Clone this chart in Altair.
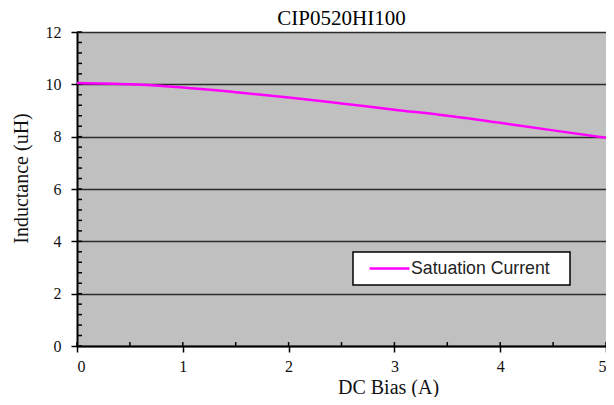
import altair as alt
import pandas as pd

# ---- data ----
bias = [0, 0.5, 1, 1.5, 2, 2.5, 3, 3.5, 4, 4.5, 5]
inductance = [10.05, 10.0, 9.88, 9.7, 9.5, 9.27, 9.03, 8.8, 8.53, 8.24, 7.96]
series_name = "Satuation Current"

x_major = [0, 1, 2, 3, 4, 5]
x_minor = [0.5, 1.5, 2.5, 3.5, 4.5]
y_major = [0, 2, 4, 6, 8, 10, 12]
y_minor = [0.4, 0.8, 1.2, 1.6, 2.4, 2.8, 3.2, 3.6, 4.4, 4.8, 5.2, 5.6,
           6.4, 6.8, 7.2, 7.6, 8.4, 8.8, 9.2, 9.6, 10.4, 10.8, 11.2, 11.6]

df = pd.DataFrame({"bias": bias, "L": inductance, "series": [series_name] * len(bias)})
ytick_df = pd.DataFrame({"v": y_major + y_minor})
xtick_df = pd.DataFrame({"v": x_major + x_minor})

SERIF = "Liberation Serif"
xscale = alt.Scale(domain=[0, 5], nice=False, zero=False)
yscale = alt.Scale(domain=[0, 12], nice=False)

line = alt.Chart(df).mark_line(strokeWidth=2.5, interpolate="monotone").encode(
    x=alt.X("bias:Q", scale=xscale, title="DC Bias (A)",
            axis=alt.Axis(values=x_major, format="d", grid=False,
                          labelPadding=6, titlePadding=3, titleFontSize=20,
                          titleX=311)),
    y=alt.Y("L:Q", scale=yscale, title="Inductance (uH)",
            axis=alt.Axis(values=y_major, format="d", grid=True,
                          labelPadding=10, titlePadding=14, titleFontSize=20,
                          titleY=146)),
    color=alt.Color("series:N", scale=alt.Scale(range=["#ff00ff"]),
                    legend=alt.Legend(title=None, orient="none", legendX=276, legendY=220,
                                      fillColor="white", strokeColor="black",
                                      padding=7, symbolType="M-2.5,0H2.5", symbolSize=256,
                                      symbolStrokeWidth=2.5, symbolOffset=20,
                                      labelFont="Liberation Sans", labelFontSize=17.7,
                                      labelColor="#222222", labelOffset=12,
                                      labelExpr="datum.label + '\u2800'")),
)

yticks_in = alt.Chart(ytick_df).mark_rule(color="black", strokeWidth=1.5).encode(
    y=alt.Y("v:Q", scale=yscale),
    x=alt.datum(0),
    x2=alt.datum(0.047),
)

xticks_in = alt.Chart(xtick_df).mark_rule(color="black", strokeWidth=1.5).encode(
    x=alt.X("v:Q", scale=xscale),
    y=alt.datum(0),
    y2=alt.datum(0.15),
)

chart = alt.layer(yticks_in, xticks_in, line).properties(
    width=529,
    height=314,
    autosize=alt.AutoSizeParams(type="none"),
    padding={"left": 69, "top": 24, "right": 0, "bottom": 51},
    title=alt.TitleParams("CIP0520HI100", font=SERIF, fontSize=21, fontWeight="normal",
                          color="black", offset=-5, anchor="middle", frame="group"),
    background="white",
).configure_view(
    fill="#c0c0c0", stroke="#8a8a8a", strokeWidth=1
).configure_axis(
    domainColor="black", domainWidth=2,
    tickColor="black", tickWidth=1.5, tickSize=6,
    gridColor="#2a2a2a", gridWidth=1.5,
    labelFont=SERIF, labelFontSize=16, labelColor="#111111",
    titleFont=SERIF, titleFontWeight="normal", titleColor="#111111",
).configure_legend(strokeWidth=1.5)

chart.save("out.html", embed_options={"renderer": "svg", "actions": False})
